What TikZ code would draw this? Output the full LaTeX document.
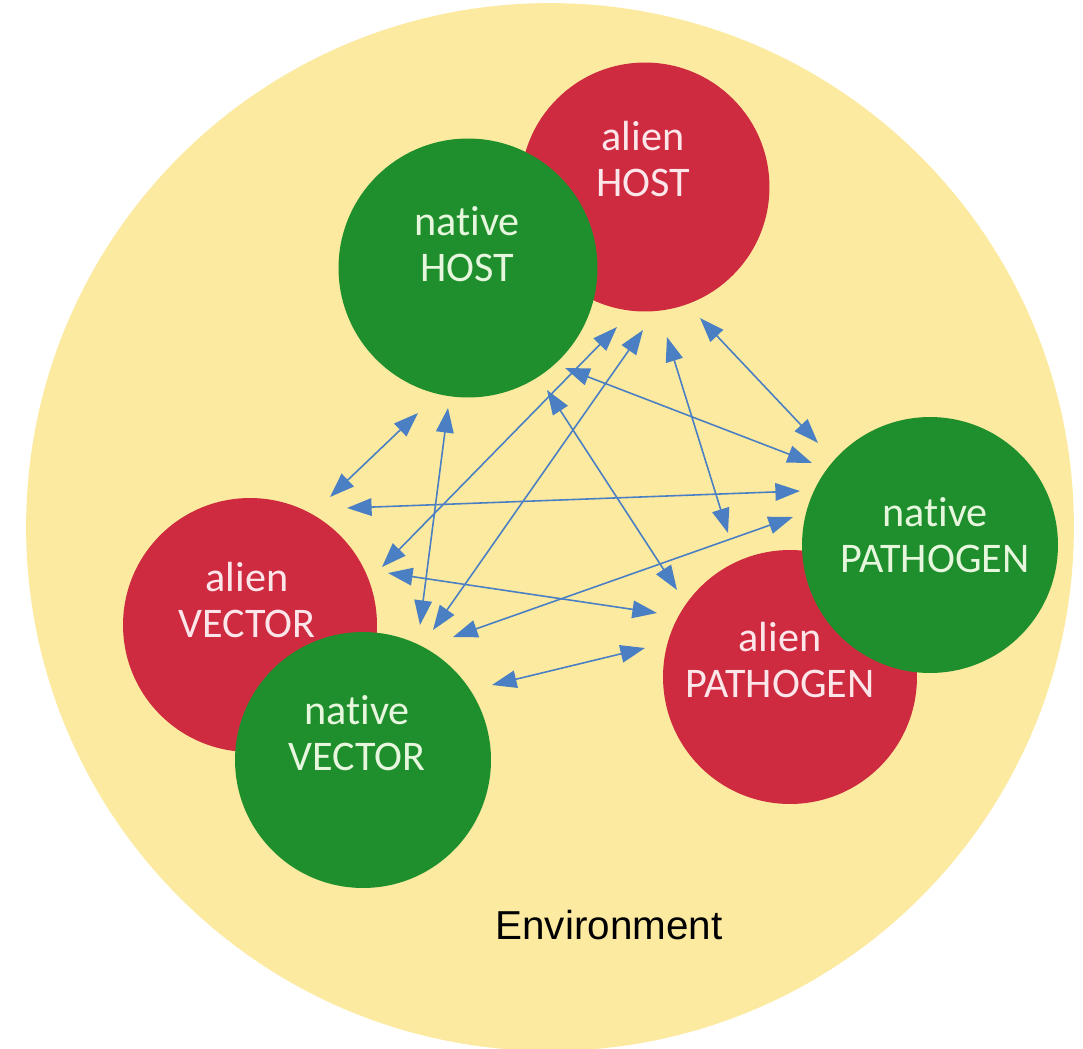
\documentclass[tikz,border=0pt]{standalone}
\usepackage{fontspec}
\setmainfont{Carlito}[Ligatures={NoCommon}]
\newfontfamily\envfont{Liberation Sans}
\usetikzlibrary{arrows.meta}
\definecolor{envyellow}{HTML}{FCEAA0}
\definecolor{alienred}{HTML}{CE2B40}
\definecolor{nativegreen}{HTML}{1F8F2D}
\definecolor{arrowblue}{HTML}{4A7FC4}
\definecolor{greentext}{HTML}{E6F7DE}
\definecolor{redtext}{HTML}{FCE6EA}
\begin{document}
\begin{tikzpicture}[x=0.02cm,y=-0.02cm,
  envcircle/.style={circle,fill=envyellow,inner sep=0pt,minimum size=20.96cm},
  aliencircle/.style={circle,fill=alienred,inner sep=0pt},
  nativecircle/.style={circle,fill=nativegreen,inner sep=0pt},
  lab/.style={align=center,inner sep=0pt,font=\fontsize{24}{26.5}\selectfont},
  alienlab/.style={lab,text=redtext},
  nativelab/.style={lab,text=greentext},
  link/.style={color=arrowblue,line width=0.9pt,
    {Triangle[length=14pt,width=10pt]}-{Triangle[length=14pt,width=10pt]}}
]
\fill[white] (0,0) rectangle (1083,1049);
\useasboundingbox (0,0) rectangle (1083,1049);

% environment
\node[envcircle] (env) at (550,527) {};

% organism circles
\node[aliencircle,minimum size=4.98cm] (aH) at (645,187) {};
\node[nativecircle,minimum size=5.18cm] (nH) at (468,268) {};
\node[aliencircle,minimum size=5.08cm] (aV) at (250,625) {};
\node[nativecircle,minimum size=5.12cm] (nV) at (363,760) {};
\node[aliencircle,minimum size=5.08cm] (aP) at (790,677) {};
\node[nativecircle,minimum size=5.12cm] (nP) at (930,545) {};

% labels
\node[alienlab] (aHt) at (643,159) {alien\\HOST};
\node[nativelab] (nHt) at (467,244) {native\\HOST};
\node[alienlab] (aVt) at (247,600) {alien\\VECTOR};
\node[nativelab] (nVt) at (357,733) {native\\VECTOR};
\node[alienlab] (aPt) at (780,660) {alien\\PATHOGEN};
\node[nativelab] (nPt) at (935,535) {native\\PATHOGEN};
\node[font=\envfont\fontsize{23}{26}\selectfont] (envt) at (609,925) {Environment};

% arrow end points
\coordinate (nHaVa) at (418,413); \coordinate (nHaVb) at (330,497);
\coordinate (nHnVa) at (448,408); \coordinate (nHnVb) at (420,625);
\coordinate (aVnPa) at (347,508); \coordinate (aVnPb) at (800,491);
\coordinate (aHaVa) at (617,327); \coordinate (aHaVb) at (382,567);
\coordinate (aHnVa) at (643,330); \coordinate (aHnVb) at (433,630);
\coordinate (aHaPa) at (667,337); \coordinate (aHaPb) at (728,533);
\coordinate (aHnPa) at (700,318); \coordinate (aHnPb) at (818,443);
\coordinate (nHnPa) at (565,368); \coordinate (nHnPb) at (812,463);
\coordinate (nHaPa) at (547,390); \coordinate (nHaPb) at (677,590);
\coordinate (aVaPa) at (388,573); \coordinate (aVaPb) at (657,613);
\coordinate (nPnVa) at (793,517); \coordinate (nPnVb) at (453,637);
\coordinate (aPnVa) at (645,648); \coordinate (aPnVb) at (492,685);

% interactions
\draw[link] (nHaVa) -- (nHaVb);
\draw[link] (nHnVa) -- (nHnVb);
\draw[link] (aVnPa) -- (aVnPb);
\draw[link] (aHaVa) -- (aHaVb);
\draw[link] (aHnVa) -- (aHnVb);
\draw[link] (aHaPa) -- (aHaPb);
\draw[link] (aHnPa) -- (aHnPb);
\draw[link] (nHnPa) -- (nHnPb);
\draw[link] (nHaPa) -- (nHaPb);
\draw[link] (aVaPa) -- (aVaPb);
\draw[link] (nPnVa) -- (nPnVb);
\draw[link] (aPnVa) -- (aPnVb);
\end{tikzpicture}
\end{document}
